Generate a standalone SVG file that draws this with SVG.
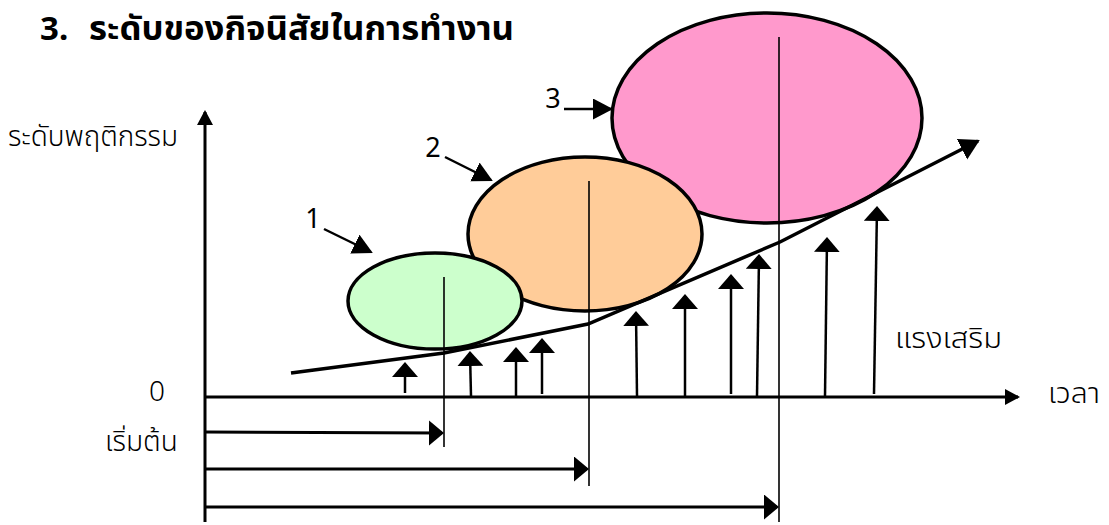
<svg xmlns="http://www.w3.org/2000/svg" width="1109" height="525" viewBox="0 0 1109 525">
<style>
.t{font-family:"Noto Sans","Noto Sans Thai","Liberation Sans",sans-serif;fill:#000}
.lbl{font-size:28px;font-weight:300}
.num{font-size:27px}
.ttl{font-size:33px;font-weight:bold}
.ax{stroke:#000;stroke-width:3;fill:none}
.ell{stroke:#000;stroke-width:3.5}
.vl{stroke:#000;stroke-width:1.6;fill:none}
.up{stroke:#000;stroke-width:2.5;fill:none;marker-end:url(#mUp)}
.hz{stroke:#000;stroke-width:3;fill:none;marker-end:url(#mHz)}
.la{stroke:#000;stroke-width:2.5;fill:none;marker-end:url(#mLab)}
</style>
<defs>
<marker id="mAx" markerUnits="userSpaceOnUse" markerWidth="16" markerHeight="16" refX="13" refY="8" orient="auto"><path d="M0,0 L15,8 L0,16 z" fill="#000"/></marker>
<marker id="mUp" markerUnits="userSpaceOnUse" markerWidth="16" markerHeight="26" refX="13" refY="13" orient="auto"><path d="M0,0 L15,13 L0,26 z" fill="#000"/></marker>
<marker id="mHz" markerUnits="userSpaceOnUse" markerWidth="16" markerHeight="26" refX="13" refY="12.5" orient="auto"><path d="M0,0 L15,12.5 L0,25 z" fill="#000"/></marker>
<marker id="mLab" markerUnits="userSpaceOnUse" markerWidth="22" markerHeight="22" refX="18" refY="10.5" orient="auto"><path d="M0,0 L20,10.5 L0,21 z" fill="#000"/></marker>
<marker id="mTr" markerUnits="userSpaceOnUse" markerWidth="22" markerHeight="24" refX="18" refY="11.5" orient="auto"><path d="M0,0 L20,11.5 L0,23 z" fill="#000"/></marker>
</defs>

<g id="title">
<text class="t ttl" x="40" y="40">3.</text>
<text class="t ttl" x="89" y="40" textLength="425" lengthAdjust="spacingAndGlyphs">ระดับของกิจนิสัยในการทำงาน</text>
</g>

<g id="ellipse3"><ellipse class="ell" cx="767" cy="118" rx="155" ry="105" fill="#FF99CC"/></g>
<g id="ellipse2"><ellipse class="ell" cx="585" cy="234" rx="117" ry="77" fill="#FFCC99"/></g>
<g id="ellipse1"><ellipse class="ell" cx="435" cy="301" rx="87" ry="48" fill="#CCFFCC"/></g>

<g id="connectors">
<line class="ax" x1="205" y1="522" x2="205" y2="112" marker-end="url(#mAx)"/>
<line class="ax" x1="205" y1="397" x2="1018" y2="397" marker-end="url(#mAx)"/>
<polyline points="291,373 444,353 588,324 780,242 978,141" stroke="#000" stroke-width="3.5" fill="none" marker-end="url(#mTr)"/>
<line class="vl" x1="444" y1="277" x2="444" y2="447"/>
<line class="vl" x1="589" y1="181" x2="589" y2="486"/>
<line class="vl" x1="779" y1="37" x2="779" y2="522"/>
<line class="hz" x1="205" y1="432" x2="442" y2="433"/>
<line class="hz" x1="205" y1="469" x2="587" y2="469"/>
<line class="hz" x1="205" y1="507" x2="777" y2="507"/>
<line class="up" x1="405" y1="393" x2="405" y2="364"/>
<line class="up" x1="471" y1="396" x2="470" y2="353"/>
<line class="up" x1="516" y1="396" x2="516" y2="349"/>
<line class="up" x1="542" y1="394" x2="542" y2="340"/>
<line class="up" x1="637" y1="396" x2="636" y2="313"/>
<line class="up" x1="685" y1="396" x2="685" y2="296"/>
<line class="up" x1="731" y1="394" x2="731" y2="276"/>
<line class="up" x1="757" y1="396" x2="759" y2="256"/>
<line class="up" x1="825" y1="396" x2="827" y2="239"/>
<line class="up" x1="874" y1="394" x2="877" y2="208"/>
<line class="la" x1="324" y1="229" x2="371" y2="252"/>
<line class="la" x1="445" y1="157" x2="491" y2="180"/>
<line class="la" x1="564" y1="109" x2="611" y2="109"/>
</g>

<g id="labels">
<text class="t num" x="313" y="228" text-anchor="middle">1</text>
<text class="t num" x="433" y="157" text-anchor="middle">2</text>
<text class="t num" x="553" y="108" text-anchor="middle">3</text>
<text class="t lbl" x="8" y="146" textLength="170" lengthAdjust="spacingAndGlyphs">ระดับพฤติกรรม</text>
<text class="t lbl" x="165" y="401" text-anchor="end">0</text>
<text class="t lbl" x="105" y="451">เริ่มต้น</text>
<text class="t lbl" x="1048" y="403" textLength="52" lengthAdjust="spacingAndGlyphs">เวลา</text>
<text class="t lbl" x="895" y="348" textLength="107" lengthAdjust="spacingAndGlyphs">แรงเสริม</text>
</g>
</svg>
